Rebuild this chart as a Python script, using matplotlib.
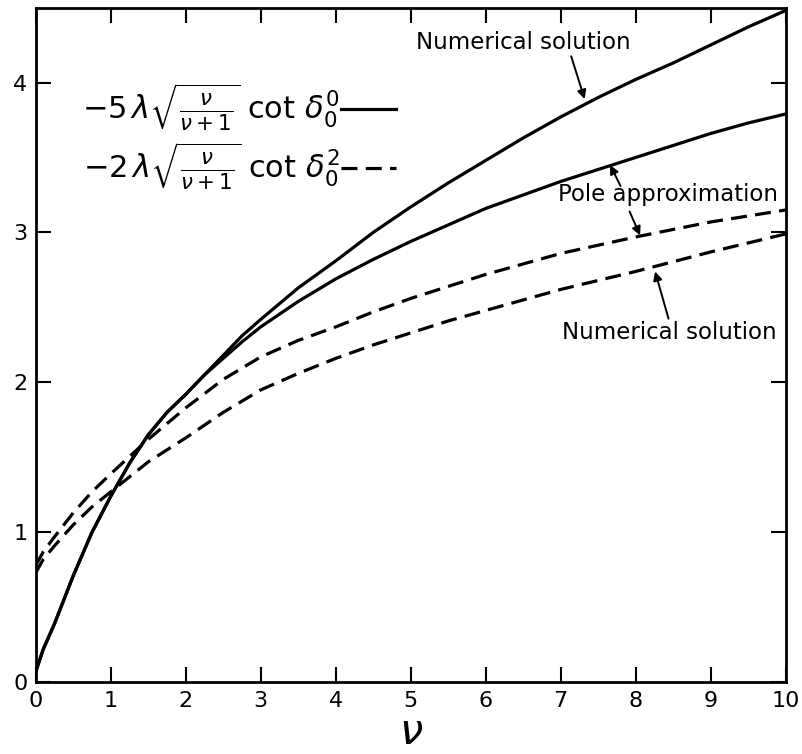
import numpy as np
import matplotlib
matplotlib.use("Agg")
import matplotlib.pyplot as plt

# Values.
solid_nu = [0, 0.1, 0.25, 0.5, 0.75, 1, 1.25, 1.5, 1.75, 2, 2.25, 2.5, 2.75,
            3, 3.5, 4, 4.5, 5, 5.5, 6, 6.5, 7, 7.5, 8, 8.5, 9, 9.5, 10]
numerical_l0 = [0.07, 0.22, 0.39, 0.71, 1.00, 1.24, 1.46, 1.65, 1.80, 1.92,
                2.05, 2.18, 2.31, 2.42, 2.63, 2.81, 3.00, 3.17, 3.33, 3.48,
                3.63, 3.77, 3.90, 4.02, 4.13, 4.25, 4.37, 4.48]
pole_l0 = [0.07, 0.22, 0.39, 0.71, 1.00, 1.24, 1.46, 1.65, 1.80, 1.92,
           2.05, 2.16, 2.27, 2.37, 2.54, 2.69, 2.82, 2.94, 3.05, 3.16,
           3.25, 3.34, 3.42, 3.50, 3.58, 3.66, 3.73, 3.79]

dashed_nu = [0, 0.1, 0.25, 0.5, 0.75, 1, 1.5, 2, 2.5, 3, 3.5, 4, 4.5, 5,
             5.5, 6, 7, 8, 9, 10]
pole_l2 = [0.78, 0.87, 0.97, 1.13, 1.27, 1.39, 1.62, 1.83, 2.02, 2.17,
           2.28, 2.37, 2.47, 2.56, 2.64, 2.72, 2.86, 2.97, 3.07, 3.15]
numerical_l2 = [0.73, 0.82, 0.91, 1.05, 1.17, 1.27, 1.47, 1.63, 1.80, 1.95,
                2.06, 2.16, 2.25, 2.33, 2.41, 2.48, 2.62, 2.74, 2.87, 2.99]

x_ticks = list(range(0, 11))
y_ticks = [0, 1, 2, 3, 4]

label_l0 = r"$-5\,\lambda\sqrt{\frac{\nu}{\nu+1}}\;\cot\,\delta_0^0$"
label_l2 = r"$-2\,\lambda\sqrt{\frac{\nu}{\nu+1}}\;\cot\,\delta_0^2$"

plt.rcParams["font.family"] = ["DejaVu Sans"]
plt.rcParams["mathtext.fontset"] = "dejavusans"

fig = plt.figure(figsize=(8.02, 7.54), dpi=100)
ax = fig.add_axes([0.0445, 0.095, 0.935, 0.895])

lw = 2.3
style = dict(color="black", lw=lw, solid_joinstyle="round",
             dash_joinstyle="round")
ax.plot(solid_nu, numerical_l0, label=label_l0, **style)
ax.plot(solid_nu, pole_l0, **style)
ax.plot(dashed_nu, pole_l2, dashes=(5, 2.6), label=label_l2, **style)
ax.plot(dashed_nu, numerical_l2, dashes=(5, 2.6), **style)

ax.set_xlim(0, 10)
ax.set_ylim(0, 4.5)
ax.set_xticks(x_ticks)
ax.set_yticks(y_ticks)
ax.tick_params(direction="in", length=11, width=1.5, labelsize=16,
               top=True, right=True, pad=6)
for s in ax.spines.values():
    s.set_linewidth(2)

ax.set_xlabel(r"$\nu$", fontsize=30, labelpad=0)

leg = ax.legend(loc="upper left", bbox_to_anchor=(0.025, 0.93), frameon=False,
                markerfirst=False, fontsize=22, handlelength=1.8,
                handletextpad=0.05, labelspacing=0.25)

arrow = dict(arrowstyle="-|>", color="black", lw=1.4, mutation_scale=13,
             shrinkA=0, shrinkB=0)
ax.annotate("Numerical solution", xy=(7.32, 3.89), xytext=(6.5, 4.27),
            fontsize=16.5, ha="center", va="center",
            arrowprops=dict(arrow, relpos=(0.72, 0.0)))
ax.annotate("", xy=(7.66, 3.45), xytext=(7.8, 3.31), arrowprops=arrow)
ax.text(8.43, 3.25, "Pole approximation", fontsize=16.5, ha="center",
        va="center")
ax.annotate("", xy=(8.06, 2.98), xytext=(7.92, 3.14), arrowprops=arrow)
ax.annotate("Numerical solution", xy=(8.26, 2.74), xytext=(8.45, 2.33),
            fontsize=16.5, ha="center", va="center",
            arrowprops=dict(arrow, relpos=(0.5, 1.0)))

fig.savefig("out.png", dpi=100)
